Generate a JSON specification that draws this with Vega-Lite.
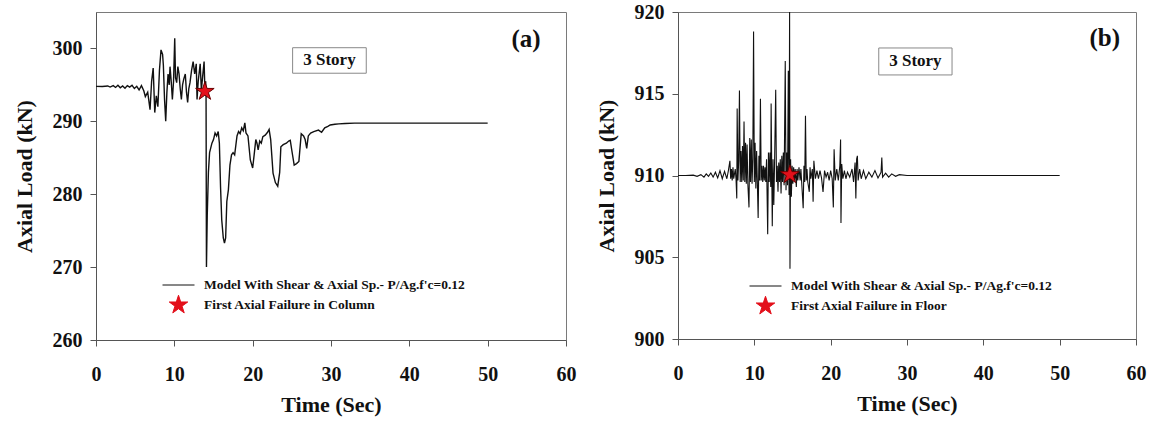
{
  "$schema": "https://vega.github.io/schema/vega-lite/v6.json",
  "background": "white",
  "padding": {"left": 12, "top": 1, "right": 5, "bottom": 5},
  "config": {
    "font": "Liberation Serif",
    "view": {"stroke": "#7a7a7a", "strokeWidth": 1},
    "axis": {
      "labelFont": "Liberation Serif", "labelFontWeight": "bold", "labelFontSize": 20, "labelColor": "#111",
      "titleFont": "Liberation Serif", "titleFontWeight": "bold", "titleFontSize": 22, "titleColor": "#111",
      "domainColor": "#555", "tickColor": "#555", "tickSize": 6, "grid": false, "labelFlush": false, "labelOverlap": false
    },
    "axisX": {"labelPadding": 18, "titlePadding": 10},
    "axisY": {"labelPadding": 8, "titlePadding": 16}
  },
  "datasets": {
    "a": [
      {"t": 0, "v": 294.8}, {"t": 0.8, "v": 294.78}, {"t": 1.5, "v": 294.85}, {"t": 1.8, "v": 294.7},
      {"t": 2.2, "v": 294.9}, {"t": 2.5, "v": 294.65}, {"t": 2.8, "v": 294.95}, {"t": 3.1, "v": 294.6},
      {"t": 3.4, "v": 294.85}, {"t": 3.7, "v": 294.55}, {"t": 4.0, "v": 294.9}, {"t": 4.3, "v": 294.7},
      {"t": 4.6, "v": 294.95}, {"t": 4.9, "v": 294.5}, {"t": 5.2, "v": 294.8}, {"t": 5.5, "v": 294.3},
      {"t": 5.8, "v": 294.9}, {"t": 6.1, "v": 294.2}, {"t": 6.3, "v": 293.4}, {"t": 6.6, "v": 294.0},
      {"t": 6.9, "v": 291.6}, {"t": 7.1, "v": 295.5}, {"t": 7.3, "v": 297.3}, {"t": 7.5, "v": 291.2},
      {"t": 7.7, "v": 293.5}, {"t": 7.9, "v": 292.0}, {"t": 8.1, "v": 297.0}, {"t": 8.3, "v": 299.8},
      {"t": 8.5, "v": 299.2}, {"t": 8.6, "v": 297.7}, {"t": 8.75, "v": 293.0}, {"t": 8.9, "v": 290.0},
      {"t": 9.05, "v": 294.0}, {"t": 9.2, "v": 296.5}, {"t": 9.35, "v": 295.0}, {"t": 9.45, "v": 297.5},
      {"t": 9.6, "v": 295.5}, {"t": 9.75, "v": 293.0}, {"t": 9.9, "v": 295.5}, {"t": 10.05, "v": 301.4},
      {"t": 10.15, "v": 296.0}, {"t": 10.3, "v": 295.3}, {"t": 10.45, "v": 297.5}, {"t": 10.6, "v": 296.5},
      {"t": 10.75, "v": 294.5}, {"t": 10.9, "v": 293.0}, {"t": 11.05, "v": 295.0}, {"t": 11.2, "v": 295.8},
      {"t": 11.4, "v": 296.5}, {"t": 11.55, "v": 294.0}, {"t": 11.7, "v": 292.6}, {"t": 11.85, "v": 294.5},
      {"t": 12.0, "v": 295.3}, {"t": 12.2, "v": 297.0}, {"t": 12.4, "v": 298.2}, {"t": 12.6, "v": 296.5},
      {"t": 12.8, "v": 297.9}, {"t": 12.9, "v": 293.0}, {"t": 13.05, "v": 295.5}, {"t": 13.3, "v": 297.9},
      {"t": 13.45, "v": 294.3}, {"t": 13.6, "v": 296.0}, {"t": 13.8, "v": 298.2}, {"t": 13.9, "v": 294.3},
      {"t": 14.0, "v": 295.5}, {"t": 14.05, "v": 293.5}, {"t": 14.1, "v": 270.0}, {"t": 14.2, "v": 277.0},
      {"t": 14.35, "v": 283.0}, {"t": 14.5, "v": 285.7}, {"t": 14.8, "v": 287.0}, {"t": 15.0, "v": 287.5},
      {"t": 15.2, "v": 288.4}, {"t": 15.4, "v": 288.0}, {"t": 15.6, "v": 288.6}, {"t": 15.75, "v": 287.0},
      {"t": 15.9, "v": 281.0}, {"t": 16.05, "v": 276.5}, {"t": 16.25, "v": 274.0}, {"t": 16.4, "v": 273.3},
      {"t": 16.55, "v": 274.0}, {"t": 16.7, "v": 279.0}, {"t": 16.9, "v": 280.6}, {"t": 17.1, "v": 284.0},
      {"t": 17.3, "v": 285.4}, {"t": 17.5, "v": 285.7}, {"t": 17.7, "v": 285.4}, {"t": 18.0, "v": 288.0},
      {"t": 18.2, "v": 288.6}, {"t": 18.4, "v": 288.3}, {"t": 18.6, "v": 289.1}, {"t": 18.8, "v": 288.7},
      {"t": 19.0, "v": 289.8}, {"t": 19.15, "v": 288.4}, {"t": 19.4, "v": 288.0}, {"t": 19.7, "v": 284.7},
      {"t": 20.0, "v": 283.6}, {"t": 20.2, "v": 285.5}, {"t": 20.4, "v": 287.5}, {"t": 20.55, "v": 287.0},
      {"t": 20.7, "v": 286.1}, {"t": 20.9, "v": 287.3}, {"t": 21.1, "v": 287.0}, {"t": 21.3, "v": 287.9},
      {"t": 21.6, "v": 288.1}, {"t": 21.9, "v": 288.5}, {"t": 22.1, "v": 288.9}, {"t": 22.3, "v": 287.5},
      {"t": 22.6, "v": 282.9}, {"t": 22.9, "v": 281.6}, {"t": 23.2, "v": 281.1}, {"t": 23.45, "v": 283.0},
      {"t": 23.6, "v": 286.5}, {"t": 23.9, "v": 286.8}, {"t": 24.3, "v": 287.0}, {"t": 24.6, "v": 287.3},
      {"t": 24.8, "v": 287.4}, {"t": 25.0, "v": 286.0}, {"t": 25.3, "v": 284.0}, {"t": 25.6, "v": 284.2},
      {"t": 25.9, "v": 284.5}, {"t": 26.2, "v": 288.3}, {"t": 26.5, "v": 288.0}, {"t": 26.7, "v": 287.5},
      {"t": 26.9, "v": 286.3}, {"t": 27.1, "v": 288.0}, {"t": 27.4, "v": 288.4}, {"t": 27.8, "v": 288.6},
      {"t": 28.4, "v": 288.8}, {"t": 28.8, "v": 288.5}, {"t": 29.2, "v": 289.1}, {"t": 29.6, "v": 289.3},
      {"t": 29.9, "v": 289.5}, {"t": 30.5, "v": 289.6}, {"t": 31.0, "v": 289.65}, {"t": 31.8, "v": 289.7},
      {"t": 33.0, "v": 289.75}, {"t": 50.0, "v": 289.75}
    ],
    "b": [
      {"t": 0, "v": 910.0}, {"t": 1.0, "v": 910.0}, {"t": 2.0, "v": 910.02}, {"t": 2.5, "v": 909.95},
      {"t": 3.0, "v": 910.05}, {"t": 3.4, "v": 909.9}, {"t": 3.7, "v": 910.1}, {"t": 4.0, "v": 909.95},
      {"t": 4.3, "v": 910.15}, {"t": 4.6, "v": 909.9}, {"t": 4.9, "v": 910.2}, {"t": 5.2, "v": 909.85},
      {"t": 5.5, "v": 910.3}, {"t": 5.8, "v": 909.8}, {"t": 6.1, "v": 910.25}, {"t": 6.4, "v": 909.8},
      {"t": 6.6, "v": 910.3}, {"t": 6.8, "v": 910.9}, {"t": 6.9, "v": 909.8}, {"t": 7.0, "v": 910.4},
      {"t": 7.1, "v": 909.7}, {"t": 7.2, "v": 910.5}, {"t": 7.3, "v": 909.8}, {"t": 7.5, "v": 910.4},
      {"t": 7.6, "v": 909.8}, {"t": 7.7, "v": 908.6}, {"t": 7.75, "v": 914.1}, {"t": 7.85, "v": 909.7},
      {"t": 7.95, "v": 910.9}, {"t": 8.05, "v": 915.2}, {"t": 8.15, "v": 909.6}, {"t": 8.25, "v": 911.5},
      {"t": 8.35, "v": 909.6}, {"t": 8.45, "v": 911.8}, {"t": 8.55, "v": 909.7}, {"t": 8.65, "v": 913.3},
      {"t": 8.75, "v": 909.6}, {"t": 8.85, "v": 912.0}, {"t": 8.95, "v": 909.5}, {"t": 9.05, "v": 911.9},
      {"t": 9.15, "v": 909.5}, {"t": 9.3, "v": 908.05}, {"t": 9.4, "v": 912.3}, {"t": 9.5, "v": 909.6},
      {"t": 9.6, "v": 912.2}, {"t": 9.7, "v": 909.5}, {"t": 9.8, "v": 911.0}, {"t": 9.9, "v": 918.8},
      {"t": 10.0, "v": 909.6}, {"t": 10.1, "v": 912.0}, {"t": 10.2, "v": 909.2}, {"t": 10.3, "v": 911.5},
      {"t": 10.4, "v": 909.5}, {"t": 10.5, "v": 907.4}, {"t": 10.6, "v": 911.2}, {"t": 10.7, "v": 909.7},
      {"t": 10.8, "v": 914.7}, {"t": 10.9, "v": 909.7}, {"t": 11.0, "v": 910.6}, {"t": 11.1, "v": 909.6},
      {"t": 11.2, "v": 910.6}, {"t": 11.3, "v": 909.7}, {"t": 11.4, "v": 910.5}, {"t": 11.5, "v": 909.6},
      {"t": 11.6, "v": 911.0}, {"t": 11.75, "v": 906.4}, {"t": 11.85, "v": 911.4}, {"t": 11.95, "v": 909.6},
      {"t": 12.05, "v": 911.4}, {"t": 12.15, "v": 909.3}, {"t": 12.2, "v": 914.4}, {"t": 12.35, "v": 906.9},
      {"t": 12.45, "v": 911.0}, {"t": 12.55, "v": 908.2}, {"t": 12.65, "v": 910.7}, {"t": 12.8, "v": 915.25},
      {"t": 12.9, "v": 909.6}, {"t": 13.0, "v": 910.6}, {"t": 13.1, "v": 909.0}, {"t": 13.2, "v": 910.8},
      {"t": 13.3, "v": 909.6}, {"t": 13.4, "v": 911.0}, {"t": 13.5, "v": 908.9}, {"t": 13.6, "v": 911.2},
      {"t": 13.7, "v": 909.6}, {"t": 13.8, "v": 911.4}, {"t": 13.9, "v": 909.4}, {"t": 14.05, "v": 917.0},
      {"t": 14.15, "v": 909.1}, {"t": 14.25, "v": 911.4}, {"t": 14.35, "v": 909.4}, {"t": 14.45, "v": 916.4},
      {"t": 14.55, "v": 908.8}, {"t": 14.62, "v": 920.0}, {"t": 14.67, "v": 904.3}, {"t": 14.75, "v": 911.0},
      {"t": 14.85, "v": 908.7}, {"t": 14.95, "v": 910.6}, {"t": 15.05, "v": 909.5}, {"t": 15.15, "v": 910.5},
      {"t": 15.25, "v": 909.7}, {"t": 15.35, "v": 910.4}, {"t": 15.5, "v": 909.3}, {"t": 15.6, "v": 910.4},
      {"t": 15.7, "v": 909.7}, {"t": 15.85, "v": 910.5}, {"t": 16.0, "v": 909.7}, {"t": 16.1, "v": 910.4},
      {"t": 16.2, "v": 909.6}, {"t": 16.4, "v": 908.0}, {"t": 16.5, "v": 910.6}, {"t": 16.6, "v": 909.6},
      {"t": 16.7, "v": 913.66}, {"t": 16.8, "v": 909.7}, {"t": 16.9, "v": 910.4}, {"t": 17.0, "v": 909.6},
      {"t": 17.2, "v": 909.0}, {"t": 17.3, "v": 910.5}, {"t": 17.4, "v": 909.8}, {"t": 17.6, "v": 910.4},
      {"t": 17.7, "v": 908.4}, {"t": 17.8, "v": 910.9}, {"t": 18.0, "v": 909.8}, {"t": 18.2, "v": 910.3},
      {"t": 18.4, "v": 909.8}, {"t": 18.6, "v": 910.3}, {"t": 18.8, "v": 909.85}, {"t": 19.0, "v": 909.0},
      {"t": 19.2, "v": 910.3}, {"t": 19.4, "v": 909.9}, {"t": 19.6, "v": 910.2}, {"t": 19.8, "v": 909.7},
      {"t": 20.0, "v": 910.3}, {"t": 20.2, "v": 909.8}, {"t": 20.35, "v": 908.05}, {"t": 20.45, "v": 911.6},
      {"t": 20.6, "v": 909.7}, {"t": 20.8, "v": 910.4}, {"t": 21.0, "v": 909.7}, {"t": 21.2, "v": 910.6},
      {"t": 21.3, "v": 912.2}, {"t": 21.35, "v": 907.1}, {"t": 21.45, "v": 910.7}, {"t": 21.6, "v": 909.8},
      {"t": 21.8, "v": 910.3}, {"t": 22.0, "v": 909.8}, {"t": 22.2, "v": 910.2}, {"t": 22.5, "v": 909.9},
      {"t": 22.8, "v": 910.4}, {"t": 23.0, "v": 909.6}, {"t": 23.2, "v": 910.8}, {"t": 23.3, "v": 908.6},
      {"t": 23.4, "v": 911.0}, {"t": 23.5, "v": 911.2}, {"t": 23.6, "v": 909.7}, {"t": 23.8, "v": 910.4},
      {"t": 24.0, "v": 909.8}, {"t": 24.3, "v": 910.3}, {"t": 24.6, "v": 909.8}, {"t": 25.0, "v": 910.2},
      {"t": 25.4, "v": 909.9}, {"t": 25.8, "v": 910.3}, {"t": 26.2, "v": 909.85}, {"t": 26.6, "v": 910.2},
      {"t": 26.7, "v": 911.1}, {"t": 26.8, "v": 909.9}, {"t": 27.2, "v": 910.15}, {"t": 27.6, "v": 909.9},
      {"t": 28.0, "v": 910.1}, {"t": 28.5, "v": 909.95}, {"t": 29.0, "v": 910.05}, {"t": 30.0, "v": 910.0},
      {"t": 50.0, "v": 910.0}
    ]
  },
  "hconcat": [
    {
      "width": 470,
      "height": 328,
      "layer": [
        {
          "data": {"name": "a"},
          "mark": {"type": "line", "strokeWidth": 1.4, "interpolate": "linear"},
          "encoding": {
            "x": {"field": "t", "type": "quantitative", "scale": {"domain": [0, 60], "nice": false}, "axis": {"values": [0, 10, 20, 30, 40, 50, 60], "title": "Time (Sec)"}},
            "y": {"field": "v", "type": "quantitative", "scale": {"domain": [260, 305], "nice": false, "zero": false}, "axis": {"values": [260, 270, 280, 290, 300], "title": "Axial Load (kN)"}},
            "color": {
              "datum": "Model With Shear & Axial Sp.- P/Ag.f'c=0.12",
              "scale": {"domain": ["Model With Shear & Axial Sp.- P/Ag.f'c=0.12", "First Axial Failure in Column"], "range": ["#111111", "#e3101b"]},
              "legend": {
                "orient": "none", "legendX": 66, "legendY": 263, "title": null,
                "labelFont": "Liberation Serif", "labelFontWeight": "bold", "labelFontSize": 13.5, "labelColor": "#111",
                "labelLimit": 500, "symbolSize": 100, "labelOffset": 9, "rowPadding": 0, "clipHeight": 20,
                "encode": {"symbols": {"update": {
                  "shape": {"signal": "datum.label == 'First Axial Failure in Column' ? 'M0,-1L0.2245,-0.309L0.951,-0.309L0.363,0.118L0.588,0.809L0,0.382L-0.588,0.809L-0.363,0.118L-0.951,-0.309L-0.2245,-0.309Z' : 'stroke'"},
                  "size": {"signal": "datum.label == 'First Axial Failure in Column' ? 380 : 1024"},
                  "fill": {"signal": "datum.label == 'First Axial Failure in Column' ? '#e3101b' : 'transparent'"},
                  "stroke": {"signal": "datum.label == 'First Axial Failure in Column' ? '#6a0000' : '#111111'"},
                  "strokeWidth": {"value": 1},
                  "opacity": {"value": 1}, "fillOpacity": {"value": 1}, "strokeOpacity": {"value": 1}
                }}}
              }
            }
          }
        },
        {
          "data": {"values": [{"t": 13.9, "v": 294.1}]},
          "mark": {"type": "point", "filled": true, "size": 380, "stroke": "#6a0000", "strokeWidth": 1, "opacity": 1, "shape": "M0,-1L0.2245,-0.309L0.951,-0.309L0.363,0.118L0.588,0.809L0,0.382L-0.588,0.809L-0.363,0.118L-0.951,-0.309L-0.2245,-0.309Z"},
          "encoding": {
            "x": {"field": "t", "type": "quantitative"},
            "y": {"field": "v", "type": "quantitative"},
            "color": {"datum": "First Axial Failure in Column"}
          }
        },
        {
          "data": {"values": [{}]},
          "mark": {"type": "rect", "fill": "white", "fillOpacity": 0, "stroke": "#888", "strokeWidth": 1},
          "encoding": {"x": {"datum": 25.1}, "x2": {"datum": 34.5}, "y": {"datum": 300.1}, "y2": {"datum": 296.6}}
        },
        {
          "data": {"values": [{}]},
          "mark": {"type": "text", "text": "3 Story", "font": "Liberation Serif", "fontWeight": "bold", "fontSize": 17, "color": "#111", "align": "center", "baseline": "middle"},
          "encoding": {"x": {"datum": 29.8}, "y": {"datum": 298.35}}
        },
        {
          "data": {"values": [{}]},
          "mark": {"type": "text", "text": "(a)", "font": "Liberation Serif", "fontWeight": "bold", "fontSize": 25, "color": "#111", "align": "center", "baseline": "middle"},
          "encoding": {"x": {"datum": 54.9}, "y": {"datum": 301.3}}
        }
      ]
    },
    {
      "width": 458,
      "height": 327,
      "layer": [
        {
          "data": {"name": "b"},
          "mark": {"type": "line", "strokeWidth": 1.1, "interpolate": "linear"},
          "encoding": {
            "x": {"field": "t", "type": "quantitative", "scale": {"domain": [0, 60], "nice": false}, "axis": {"values": [0, 10, 20, 30, 40, 50, 60], "title": "Time (Sec)"}},
            "y": {"field": "v", "type": "quantitative", "scale": {"domain": [900, 920], "nice": false, "zero": false}, "axis": {"values": [900, 905, 910, 915, 920], "title": "Axial Load (kN)"}},
            "color": {
              "datum": "Model With Shear & Axial Sp.- P/Ag.f'c=0.12",
              "scale": {"domain": ["Model With Shear & Axial Sp.- P/Ag.f'c=0.12", "First Axial Failure in Floor"], "range": ["#111111", "#e3101b"]},
              "legend": {
                "orient": "none", "legendX": 71, "legendY": 264, "title": null,
                "labelFont": "Liberation Serif", "labelFontWeight": "bold", "labelFontSize": 13.5, "labelColor": "#111",
                "labelLimit": 500, "symbolSize": 100, "labelOffset": 9, "rowPadding": 0, "clipHeight": 20,
                "encode": {"symbols": {"update": {
                  "shape": {"signal": "datum.label == 'First Axial Failure in Floor' ? 'M0,-1L0.2245,-0.309L0.951,-0.309L0.363,0.118L0.588,0.809L0,0.382L-0.588,0.809L-0.363,0.118L-0.951,-0.309L-0.2245,-0.309Z' : 'stroke'"},
                  "size": {"signal": "datum.label == 'First Axial Failure in Floor' ? 380 : 1024"},
                  "fill": {"signal": "datum.label == 'First Axial Failure in Floor' ? '#e3101b' : 'transparent'"},
                  "stroke": {"signal": "datum.label == 'First Axial Failure in Floor' ? '#6a0000' : '#111111'"},
                  "strokeWidth": {"value": 1},
                  "opacity": {"value": 1}, "fillOpacity": {"value": 1}, "strokeOpacity": {"value": 1}
                }}}
              }
            }
          }
        },
        {
          "data": {"values": [{"t": 14.65, "v": 910.05}]},
          "mark": {"type": "point", "filled": true, "size": 380, "stroke": "#6a0000", "strokeWidth": 1, "opacity": 1, "shape": "M0,-1L0.2245,-0.309L0.951,-0.309L0.363,0.118L0.588,0.809L0,0.382L-0.588,0.809L-0.363,0.118L-0.951,-0.309L-0.2245,-0.309Z"},
          "encoding": {
            "x": {"field": "t", "type": "quantitative"},
            "y": {"field": "v", "type": "quantitative"},
            "color": {"datum": "First Axial Failure in Floor"}
          }
        },
        {
          "data": {"values": [{}]},
          "mark": {"type": "rect", "fill": "white", "fillOpacity": 0, "stroke": "#888", "strokeWidth": 1},
          "encoding": {"x": {"datum": 26.3}, "x2": {"datum": 35.9}, "y": {"datum": 917.8}, "y2": {"datum": 916.15}}
        },
        {
          "data": {"values": [{}]},
          "mark": {"type": "text", "text": "3 Story", "font": "Liberation Serif", "fontWeight": "bold", "fontSize": 17, "color": "#111", "align": "center", "baseline": "middle"},
          "encoding": {"x": {"datum": 31.1}, "y": {"datum": 916.98}}
        },
        {
          "data": {"values": [{}]},
          "mark": {"type": "text", "text": "(b)", "font": "Liberation Serif", "fontWeight": "bold", "fontSize": 25, "color": "#111", "align": "center", "baseline": "middle"},
          "encoding": {"x": {"datum": 55.9}, "y": {"datum": 918.4}}
        }
      ]
    }
  ],
  "spacing": 112,
  "bounds": "flush",
  "resolve": {"scale": {"color": "independent"}}
}
